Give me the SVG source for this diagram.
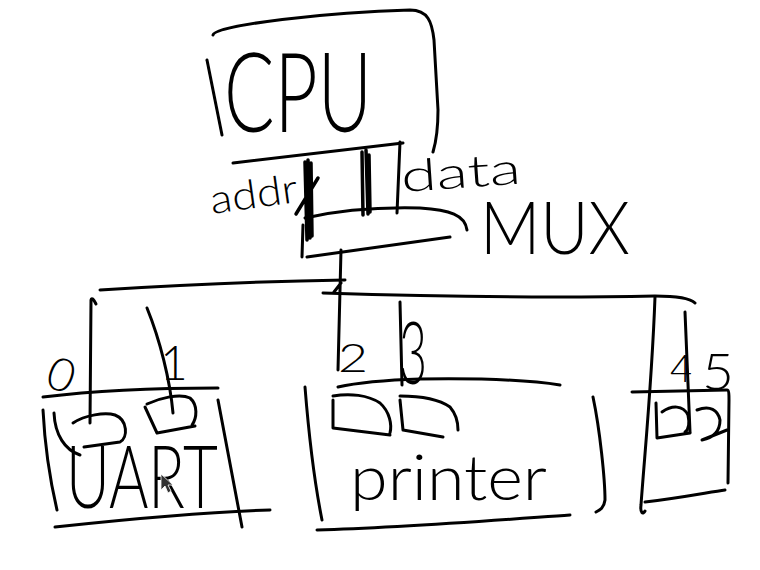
<svg xmlns="http://www.w3.org/2000/svg" width="760" height="570" viewBox="0 0 760 570">
<style>
.s{fill:none;stroke:#000;stroke-width:3;stroke-linecap:round;stroke-linejoin:round}
.b{fill:none;stroke:#000;stroke-width:3.5;stroke-linecap:round}
.t{font-family:Lato,"Liberation Sans","DejaVu Sans",sans-serif;font-weight:300;fill:#000}
</style>
<rect width="760" height="570" fill="#fff"/>
<g id="connectors">
<path class="s" d="M100,290 C180,285 280,281 345,280"/>
<path class="s" d="M323,293 C450,297 560,298 655,296 C675,296 690,298 695,303"/>
<path class="b" d="M305,162 L307,240 M308,160 L310,238 M311,163 L312,236 M296,214 L318,178"/>
<path class="b" d="M362,152 L363,215 M366,150 L368,214 M369,155 L370,212"/>
<path class="s" d="M341,250 L338,370 M334,292 L341,283"/>
<path class="s" d="M90,423 L91,300 Q92,296 96,304"/>
<path class="s" d="M147,308 C160,340 170,380 173,413"/>
<path class="s" d="M400,302 L402,385"/>
<path class="s" d="M655,297 C652,380 645,450 641,505 C640,513 643,515 645,511"/>
<path class="s" d="M685,312 L690,432"/>
</g>
<g id="cpu">
<path class="s" d="M213,35 C215,25 330,12 410,10 C428,10 432,22 434,40 L438,110 C438,130 436,142 433,152"/>
<path class="s" d="M207,60 L222,135"/>
<path class="s" d="M233,163 L403,143"/>
<path class="s" d="M400,142 L397,213"/>
<text class="t" x="224" y="132" font-size="110" textLength="148" lengthAdjust="spacingAndGlyphs">CPU</text>
<text class="t" x="212" y="214" font-size="40" textLength="88" lengthAdjust="spacingAndGlyphs" transform="rotate(-8 212 214)">addr</text>
<text class="t" x="402" y="192" font-size="44" textLength="120" lengthAdjust="spacingAndGlyphs" transform="rotate(-4 402 192)">data</text>
</g>
<g id="mux">
<path class="s" d="M305,218 C340,210 380,207 420,208 C450,210 465,215 467,230"/>
<path class="s" d="M303,225 L302,257"/>
<path class="s" d="M307,257 L450,237"/>
<text class="t" x="480" y="254" font-size="72" textLength="150" lengthAdjust="spacingAndGlyphs">MUX</text>
</g>
<g id="uart">
<text class="t" x="48" y="392" font-size="46" transform="rotate(20 64 375)">0</text>
<text class="t" x="160" y="380" font-size="48">1</text>
<path class="s" d="M43,397 C100,390 170,388 218,388"/>
<path class="s" d="M43,410 C45,450 50,480 57,510"/>
<path class="s" d="M218,400 L242,527"/>
<path class="s" d="M55,527 C120,520 200,512 270,510"/>
<path class="s" d="M54,413 C55,435 65,450 80,455 M73,423 C85,415 105,412 115,415 C128,420 128,438 120,442 L84,447"/>
<path class="s" d="M145,407 L157,433 L195,426 M147,404 C160,398 180,393 190,398 C198,405 197,418 192,425"/>
<text class="t" x="66" y="508" font-size="86" textLength="152" lengthAdjust="spacingAndGlyphs">UART</text>
<path d="M161,474 L161,490 L165,486 L168,493 L171,491 L168,485 L173,485 Z" fill="#333" stroke="#fff" stroke-width="0.8"/>
</g>
<g id="printer">
<text class="t" x="338" y="372" font-size="40" textLength="30" lengthAdjust="spacingAndGlyphs">2</text>
<text class="t" x="399" y="384" font-size="86" textLength="28" lengthAdjust="spacingAndGlyphs">3</text>
<path class="s" d="M338,387 C360,382 387,380 420,379 C490,378 530,380 560,385"/>
<path class="s" d="M305,387 C310,450 318,500 322,520"/>
<path class="s" d="M317,530 C400,528 500,520 570,515"/>
<path class="s" d="M593,397 C600,430 605,480 605,500 C604,508 600,510 596,512"/>
<path class="s" d="M333,400 L333,428 L390,435 M333,396 C350,393 368,395 380,403 C390,412 392,425 390,433"/>
<path class="s" d="M400,400 L403,430 L443,437 M400,396 C423,396 440,400 450,407 C456,414 458,422 458,430"/>
<text class="t" x="350" y="500" font-size="64" textLength="197" lengthAdjust="spacingAndGlyphs">printer</text>
</g>
<g id="device3">
<text class="t" x="670" y="382" font-size="38">4</text>
<text class="t" x="702" y="390" font-size="52" textLength="32" lengthAdjust="spacingAndGlyphs">5</text>
<path class="s" d="M632,392 L727,390 C729,390 729,395 729,400 L728,483"/>
<path class="s" d="M645,502 C680,498 710,492 725,490"/>
<path class="s" d="M656,403 L657,438 L690,433 M662,412 C672,405 683,405 688,415 C690,425 688,430 685,432"/>
<path class="s" d="M697,410 C710,405 718,410 720,420 C720,432 712,438 702,440 L727,430"/>
</g>
</svg>
